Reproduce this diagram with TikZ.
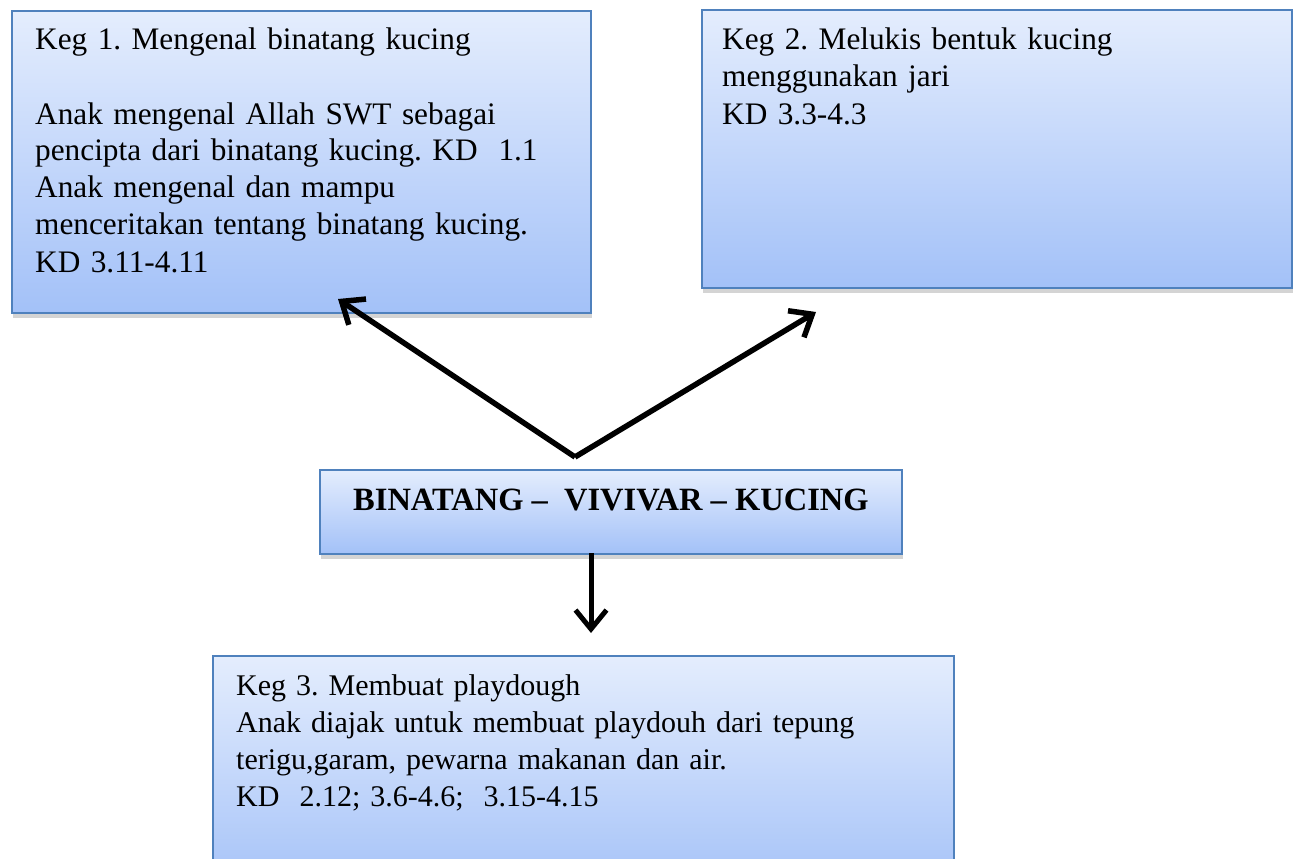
\documentclass[tikz,border=0pt]{standalone}
\usepackage{fontspec}
\setmainfont{Liberation Serif}
\usetikzlibrary{arrows.meta,shadows}
\definecolor{boxtop}{RGB}{228,237,253}
\definecolor{boxbot}{RGB}{163,193,248}
\definecolor{boxedge}{RGB}{79,129,189}
\frenchspacing
\begin{document}
\begin{tikzpicture}[x=1pt,y=-1pt,
  kegbox/.style={draw=boxedge, line width=1.6pt, top color=boxtop, bottom color=boxbot,
    anchor=north west, inner sep=0pt,
    drop shadow={shadow xshift=1.5pt, shadow yshift=-5pt, fill=black!60, opacity=0.28}},
  kegtext/.style={anchor=base west, align=left, inner sep=0pt, font=\fontsize{31.3}{37}\selectfont},
  bigarrow/.style={line width=5.5pt, -{Straight Barb[length=19pt,width=31pt]}}]
\clip (0,0) rectangle (1293,859);
% boxes
\node[kegbox, minimum width=579pt, minimum height=302pt] (k1) at (11,10) {};
\node[kegbox, minimum width=590pt, minimum height=278pt] (k2) at (701,9) {};
\node[kegbox, minimum width=582pt, minimum height=84pt] (kc) at (319,469) {};
\node[kegbox, minimum width=741pt, minimum height=240pt] (k3) at (212,655) {};
% texts
\node[kegtext, text width=550pt] (t1) at (35,50)
  {Keg 1. Mengenal binatang kucing\\[37pt]
   Anak mengenal Allah SWT sebagai\\
   pencipta dari binatang kucing. KD~~1.1\\
   Anak mengenal dan mampu\\
   menceritakan tentang binatang kucing.\\
   KD 3.11-4.11};
\node[kegtext, text width=550pt] (t2) at (722,50)
  {Keg 2. Melukis bentuk kucing\\
   menggunakan jari\\
   KD 3.3-4.3};
\node[anchor=base west, inner sep=0pt, font=\fontsize{32.5}{37}\selectfont\bfseries] (tc) at (353,510)
  {BINATANG --~~VIVIVAR -- KUCING};
\node[kegtext, text width=710pt, font=\fontsize{30}{37}\selectfont] (t3) at (236,695)
  {Keg 3. Membuat playdough\\
   Anak diajak untuk membuat playdouh dari tepung\\
   terigu,garam, pewarna makanan dan air.\\
   KD~~2.12; 3.6-4.6;~~3.15-4.15};
% connectors
\coordinate (apex) at (575,457);
\coordinate (tip1) at (338,299);
\coordinate (tip2) at (816,312);
\coordinate (cbot) at (591,553);
\coordinate (tip3) at (591,633);
\draw[bigarrow] (apex) -- (tip1);
\draw[bigarrow] (apex) -- (tip2);
\draw[bigarrow, line width=5pt] (cbot) -- (tip3);
\end{tikzpicture}
\end{document}
